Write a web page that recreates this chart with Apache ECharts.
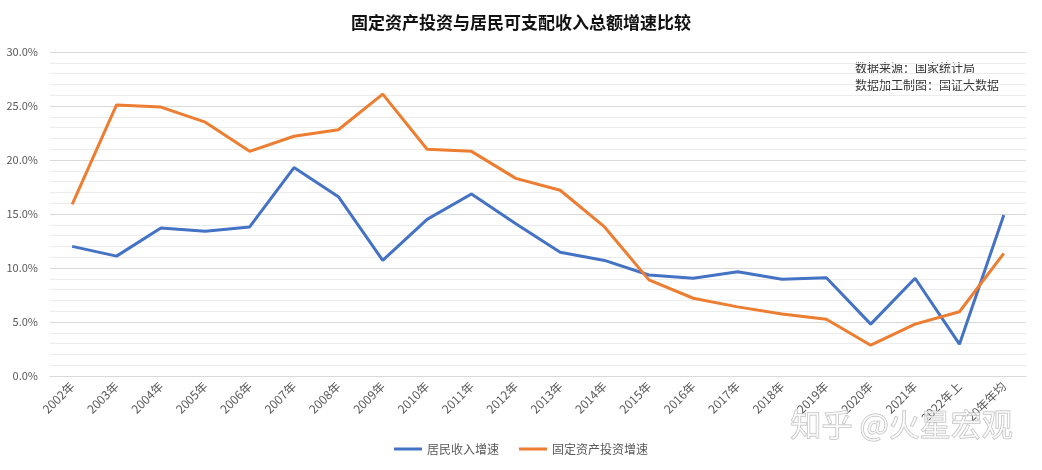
<!DOCTYPE html>
<html>
<head>
<meta charset="utf-8">
<script src="https://cdn.jsdelivr.net/npm/echarts@6/dist/echarts.min.js"></script>
<style>
html,body{margin:0;padding:0;background:#fff;}
#main{width:1042px;height:470px;}
</style>
</head>
<body>
<div id="main"></div>
<script>
const categories = ['2002年','2003年','2004年','2005年','2006年','2007年','2008年','2009年','2010年','2011年','2012年','2013年','2014年','2015年','2016年','2017年','2018年','2019年','2020年','2021年','2022年上','20年年均'];
const incomeGrowth = [12.0,11.1,13.7,13.4,13.8,19.3,16.6,10.7,14.5,16.85,14.1,11.45,10.7,9.35,9.05,9.65,8.95,9.1,4.8,9.05,2.95,14.9];
const investGrowth = [15.9,25.1,24.9,23.5,20.8,22.2,22.8,26.1,21.0,20.8,18.3,17.2,13.8,8.9,7.2,6.4,5.75,5.25,2.85,4.8,5.95,11.35];
const seriesNames = ['居民收入增速','固定资产投资增速'];
const titleText = '固定资产投资与居民可支配收入总额增速比较';
const noteLines = ['数据来源：国家统计局','数据加工制图：国证大数据'];

const chart = echarts.init(document.getElementById('main'));
const font = '"Noto Sans CJK SC", "Microsoft YaHei", sans-serif';
chart.setOption({
  backgroundColor: '#fff',
  animation: false,
  title: {
    text: titleText,
    left: 'center',
    top: 9,
    textStyle: {fontFamily: font, fontSize: 17, fontWeight: 'bold', color: '#111'}
  },
  legend: {
    bottom: 10,
    left: 'center',
    itemWidth: 28,
    itemHeight: 3,
    itemGap: 20,
    icon: 'rect',
    textStyle: {fontFamily: font, fontSize: 12, color: '#595959'},
    data: seriesNames
  },
  grid: {left: 50, right: 16, top: 52, bottom: 94},
  xAxis: {
    type: 'category',
    data: categories,
    boundaryGap: true,
    axisLine: {show: true, lineStyle: {color: '#d9d9d9'}},
    axisTick: {show: false},
    axisLabel: {rotate: 45, interval: 0, fontFamily: font, fontSize: 12, color: '#595959', margin: 8}
  },
  yAxis: {
    type: 'value',
    min: 0, max: 30, interval: 5,
    axisLine: {show: false},
    axisTick: {show: false},
    axisLabel: {formatter: v => v.toFixed(1) + '%', fontFamily: font, fontSize: 11, color: '#595959', margin: 12},
    splitLine: {lineStyle: {color: '#d9d9d9', width: 1}},
    minorTick: {show: false, splitNumber: 5},
    minorSplitLine: {show: true, lineStyle: {color: '#ececec', width: 1}}
  },
  series: [
    {name: seriesNames[0], type: 'line', data: incomeGrowth, symbol: 'none', lineStyle: {color: '#4472C4', width: 3}, itemStyle: {color: '#4472C4'}},
    {name: seriesNames[1], type: 'line', data: investGrowth, symbol: 'none', lineStyle: {color: '#ED7D31', width: 3}, itemStyle: {color: '#ED7D31'}}
  ],
  graphic: [
    {type: 'text', left: 855, top: 60, style: {text: noteLines.join('\n'), font: '12px ' + font, fill: '#333', lineHeight: 17}},
    {type: 'text', left: 790, top: 408, z: 100, style: {text: '知乎 @火星宏观', font: '31px ' + font, fill: 'rgba(255,255,255,0.6)', stroke: '#b8b8b8', lineWidth: 1}}
  ]
});
</script>
</body>
</html>
